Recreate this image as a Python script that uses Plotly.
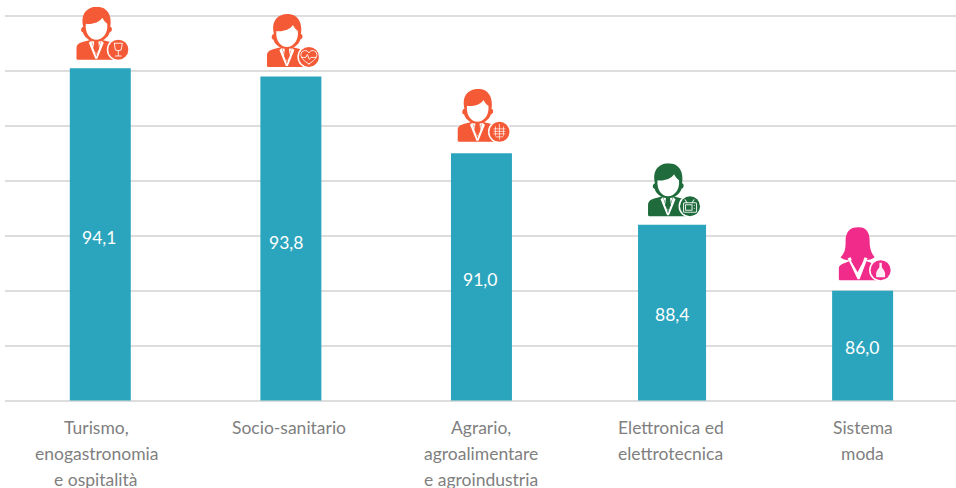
import base64
import plotly.graph_objects as go

categories = ["Turismo,|enogastronomia|e ospitalità", "Socio-sanitario", "Agrario,|agroalimentare|e agroindustria", "Elettronica ed|elettrotecnica", "Sistema|moda"]
values = [94.1, 93.8, 91.0, 88.4, 86.0]
bar_widths = [0.32, 0.32, 0.32, 0.357, 0.32]
label_shifts = [-4, -2, 0, -1.5, 0]
value_shifts_x = [-1.5, -5, -1.5, -0.5, -0.5]
value_shifts_y = [3, 4, 2.5, 2, 2]
icon_colors = ["#F55A36", "#F55A36", "#F55A36", "#1F6B3C", "#F02B8A"]
icon_gaps = [7.5, 8.5, 10.5, 7.5, 9.5]
icon_kinds = ["man", "man", "man", "man", "woman"]

AXIS_MIN = 82
BAR = "#2BA5BD"; GRID = "#DDDDDD"; TXT = "#7F7F7F"; FONT = "Lato, Carlito, sans-serif"
S = 'stroke="#fff" fill="none" stroke-opacity=".85" stroke-linecap="round" stroke-linejoin="round"'
glyphs = [
    f'<g {S} stroke-width="1"><path d="M38 36.500h8l-.6 4a3.400 3.400 0 0 1-6.800 0z"/><path d="M42 44.500v4.500M39 49.300h6"/></g>',
    f'<g {S} stroke-width="1"><path d="M42 50c-5-3-8-6-8-9.500a4.200 4.200 0 0 1 8-1.500a4.200 4.200 0 0 1 8 1.500c0 3.500-3 6.500-8 9.500z"/><path d="M35 43.500h4l1.500-3l2 5l1.500-2h5"/></g>',
    f'<g {S} stroke-width=".8"><path d="M42 35.500v15M38 38v8.500M46 38v8.500M36.500 40h11M36.500 42.500h11M36.500 45h11M38.500 48h7"/></g>',
    f'<g {S} stroke-width="1.100"><rect x="35.500" y="39.500" width="13" height="9.500" rx="1"/><rect x="37.500" y="41.500" width="6.500" height="5.500"/><path d="M39 39.500l-2-3M44 39.500l2-3M46.300 42h.1M46.300 45h.1"/></g>',
    '<path fill="#fff" fill-opacity=".92" d="M40.800 35.500h2.400v4c0 1.500 3.300 3.500 3.300 7v2.500a1.200 1.200 0 0 1-1.200 1.200h-6.600a1.200 1.200 0 0 1-1.200-1.200v-2.500c0-3.500 3.300-5.500 3.300-7z"/>',
]

def man(c):
    return (
        f'<path fill="{c}" d="M7 20C4 8 10 0 21 0C31 0 36 9 34 20C36 20 36.500 25 33.500 25.500C31.500 32 25 35 20 35C15 35 8.500 32 6.500 25.500C3.500 25 5 20 7 20Z"/>'
        f'<path fill="#fff" d="M9.500 17C15 18 23 16 26 11C27.500 14 29.500 16 31 17C32 27 26 33 20 33C14 33 8.500 27 9.500 17Z"/>'
        f'<path fill="{c}" d="M0 52V42C0 38 3 36 7 35L15 33L20 48L25 33L33 35C38 37 40 38 41 42V53H2C1 53 0 52.500 0 52Z"/>'
        f'<path fill="#fff" d="M15 34L20 50L25 34L27.500 36L21 52H19L12.500 36Z"/>'
        f'<path fill="{c}" d="M18 34H22L22.800 42L20 47L17.200 42Z"/>'
    )

def woman(c):
    return (
        f'<path fill="{c}" d="M18 0C27 -1 31 5 31 13C31 20 32 25 36 30C32 33 28 33 25 33V38H12V33C9 33 5 33 2 30C7 25 7 20 7 13C7 6 11 0 18 0Z"/>'
        f'<path fill="{c}" d="M0 52V42C0 38 3 37 8 35L13 33L19 48L25 33L31 35L38 38V53H1Z"/>'
        f'<path fill="#fff" d="M9 31L12 30L19 46L26 30L29 31L21 52H19Z"/>'
        f'<path fill="{c}" d="M12 33H25L19 45Z"/>'
    )

def icon(kind, color, glyph):
    body = man(color) if kind == "man" else woman(color)
    svg = (f'<svg xmlns="http://www.w3.org/2000/svg" width="216" height="216" viewBox="0 0 54 54">{body}'
           f'<circle cx="42" cy="43" r="11.500" fill="#fff"/><circle cx="42" cy="43" r="10" fill="{color}"/>{glyph}</svg>')
    return "data:image/svg+xml;base64," + base64.b64encode(svg.encode()).decode()

idx = list(range(len(values)))
fig = go.Figure(go.Bar(
    x=idx, y=[v - AXIS_MIN for v in values], base=AXIS_MIN, width=bar_widths,
    marker=dict(color=BAR, line_width=0), hoverinfo="skip",
))

PX_X = 951 / 4.99
PX_Y = 55 / 2
Y_TOP = 96 + 16 / PX_Y
Y_BOT = AXIS_MIN - 1.5 / PX_Y
images = []
for i, (v, k, c, g, gl) in enumerate(zip(values, icon_kinds, icon_colors, icon_gaps, glyphs)):
    images.append(dict(source=icon(k, c, gl), xref="x", yref="y", x=i - 24 / PX_X, y=v + g / PX_Y,
                       sizex=54 / PX_X, sizey=54 / PX_Y, xanchor="left", yanchor="bottom",
                       sizing="stretch", layer="above"))

annotations = []
for i, (cat, sh) in enumerate(zip(categories, label_shifts)):
    for j, line in enumerate(cat.split("|")):
        annotations.append(dict(x=i, y=AXIS_MIN, xref="x", yref="y", text=line, showarrow=False,
                                xanchor="center", yanchor="middle", xshift=sh, yshift=-27 - 26 * j,
                                font=dict(family=FONT, size=17.5, color=TXT)))
for i, (v, sx, sy) in enumerate(zip(values, value_shifts_x, value_shifts_y)):
    annotations.append(dict(x=i, y=(v + AXIS_MIN) / 2, xref="x", yref="y", text=f"{v:.1f}".replace(".", ","),
                            showarrow=False, xanchor="center", yanchor="middle", xshift=sx, yshift=-sy,
                            font=dict(family=FONT, size=17.5, color="#FFFFFF")))

fig.update_layout(
    width=956, height=488, margin=dict(l=5, r=0, t=0, b=85.5), autosize=False,
    paper_bgcolor="#FFFFFF", plot_bgcolor="#FFFFFF", showlegend=False,
    images=images, annotations=annotations,
    xaxis=dict(range=[-0.5, 4.49], showticklabels=False, showgrid=False, zeroline=False, ticks="", showline=False),
    yaxis=dict(range=[Y_BOT, Y_TOP], tick0=AXIS_MIN, dtick=2, showticklabels=False, showgrid=True, gridcolor=GRID, gridwidth=2,
               zeroline=False, ticks="", showline=False),
)
fig.write_html("out.html", config={"displayModeBar": False},
               post_script="document.body.style.margin='0';document.body.style.overflow='hidden';")
